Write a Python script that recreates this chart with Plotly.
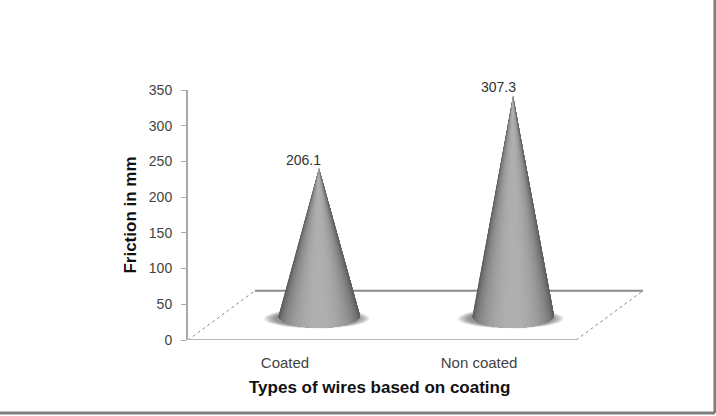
import numpy as np
import plotly.graph_objects as go

categories = ['Coated', 'Non coated']
values = [206.1, 307.3]
value_labels = ['206.1', '307.3']
y_ticks = [0, 50, 100, 150, 200, 250, 300, 350]

# floor depth in axis units (3d look)
depth_x = 0.345
depth_y = 69
base_x = 0.175
base_y = 34
cone_a = 0.211
cone_b = 17

fig = go.Figure()

# floor
fig.add_trace(go.Scatter(x=[-0.5, -0.5 + depth_x], y=[0, depth_y], mode='lines',
                         line=dict(color='#8c8c8c', width=1, dash='dot')))
fig.add_trace(go.Scatter(x=[1.5, 1.5 + depth_x], y=[0, depth_y], mode='lines',
                         line=dict(color='#8c8c8c', width=1, dash='dot')))
fig.add_trace(go.Scatter(x=[-0.5 + depth_x, 1.5 + depth_x], y=[depth_y, depth_y], mode='lines',
                         line=dict(color='#8a8a8a', width=2)))


def shade(t):
    # t is 0 at the cone edge and 1 in the middle
    v = int(84 + 92 * t ** 1.1)
    return 'rgb(%d,%d,%d)' % (v, v, v + 1)


for i, val in enumerate(values):
    cx = i + base_x
    th = np.linspace(0, 2 * np.pi, 60)
    # soft shadow under the cone
    for k in range(10):
        s = 1.3 - k * 0.03
        fig.add_trace(go.Scatter(x=cx - 0.012 + cone_a * s * np.cos(th),
                                 y=base_y - 4 + 14 * (s / 1.3) * np.sin(th),
                                 mode='lines', fill='toself', line=dict(width=0),
                                 fillcolor='rgba(50,50,50,0.07)'))
    # cone painted left to right, each piece runs to the right edge so no seams show
    ang = np.linspace(np.pi, 2 * np.pi, 61)
    for a0 in ang[:-1]:
        rest = ang[ang >= a0]
        col = shade(abs(np.sin(a0 + np.pi / 120)))
        px = np.concatenate([[cx], cx + cone_a * np.cos(rest), [cx]])
        py = np.concatenate([[base_y + val], base_y + cone_b * np.sin(rest), [base_y + val]])
        fig.add_trace(go.Scatter(x=px, y=py, mode='lines', fill='toself',
                                 line=dict(width=0), fillcolor=col))

annotations = []
for i, val in enumerate(values):
    annotations.append(dict(x=i + base_x, y=base_y + val, text=value_labels[i], showarrow=False,
                            xshift=-15, yshift=9, font=dict(size=14, color='#333333')))
annotations.append(dict(xref='paper', yref='paper', x=0.418, y=-0.188, yanchor='middle',
                        text='<b>Types of wires based on coating</b>',
                        showarrow=False, font=dict(size=17, color='#111111')))

# picture border on the right and at the bottom
shapes = [
    dict(type='line', xref='paper', yref='paper', x0=-0.412, x1=1.153, y0=-0.292, y1=-0.292,
         line=dict(color='#7f7f7f', width=3)),
    dict(type='line', xref='paper', yref='paper', x0=1.153, x1=1.153, y0=-0.292, y1=1.36,
         line=dict(color='#7f7f7f', width=3)),
]

fig.update_layout(
    width=716, height=416,
    margin=dict(l=188, r=71, t=90, b=76, autoexpand=False),
    paper_bgcolor='white', plot_bgcolor='white',
    showlegend=False, hovermode=False,
    font=dict(family='Liberation Sans', size=14, color='#444444'),
    annotations=annotations, shapes=shapes,
    xaxis=dict(range=[-0.5, 1.855], tickvals=[0, 1], ticktext=categories, showgrid=False,
               zeroline=False, showline=False, ticks='', tickfont=dict(size=15), ticklabelstandoff=12),
    yaxis=dict(range=[0, 350], tickvals=y_ticks, showgrid=False, zeroline=False, showline=True,
               linecolor='#a8a8a8', linewidth=2, ticks='outside', ticklen=5, tickcolor='#a8a8a8',
               ticklabelstandoff=6,
               title=dict(text='<b>Friction in mm</b>', font=dict(size=17, color='#111111'), standoff=8)),
)
fig.add_shape(type='line', x0=-0.5, x1=1.5, y0=0, y1=0, line=dict(color='#b8b8b8', width=2))

# default page margin would push the figure 8px in
fig.write_html("out.html", config={'displayModeBar': False},
               post_script="document.body.style.margin='0';")
